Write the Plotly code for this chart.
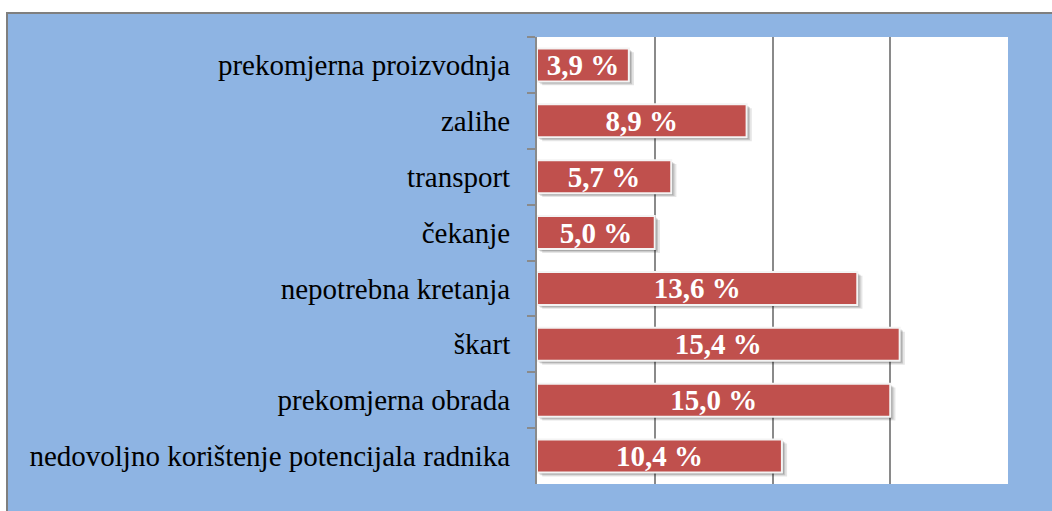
import plotly.graph_objects as go

# Categories (top to bottom) and their shares in percent
categories = [
    "prekomjerna proizvodnja",
    "zalihe",
    "transport",
    "čekanje",
    "nepotrebna kretanja",
    "škart",
    "prekomjerna obrada",
    "nedovoljno korištenje potencijala radnika",
]
values = [3.9, 8.9, 5.7, 5.0, 13.6, 15.4, 15.0, 10.4]
labels = ["3,9 %", "8,9 %", "5,7 %", "5,0 %", "13,6 %", "15,4 %", "15,0 %", "10,4 %"]

W, H = 1052, 511
ML, MR, MT, MB = 537, 44, 37, 27
PW, PH = W - ML - MR, H - MT - MB

BLUE = "#8EB4E3"
RED = "#C0504D"
GRID = "#8A8A8A"
SERIF = "Liberation Serif"
BAR_W = 0.59

fig = go.Figure()

# soft drop shadow under each bar
for dx, dy, op in [(0.22, 0.07, 0.10), (0.14, 0.05, 0.14), (0.08, 0.03, 0.18)]:
    fig.add_trace(go.Bar(
        y=categories, x=values, base=dx, orientation="h",
        width=BAR_W, offset=-BAR_W / 2 + dy,
        marker=dict(color=f"rgba(0,0,0,{op})", line=dict(width=0)),
        hoverinfo="skip", showlegend=False,
    ))

# bars with white outline and value labels
fig.add_trace(go.Bar(
    y=categories, x=values, orientation="h", width=BAR_W,
    marker=dict(color=RED, line=dict(color="#F4F4F4", width=2)),
    text=labels, textposition="inside", insidetextanchor="middle",
    textangle=0, constraintext="none",
    textfont=dict(family=SERIF, size=29, color="white", weight="bold"),
    showlegend=False,
))

fig.update_layout(
    width=W, height=H,
    margin=dict(l=ML, r=MR, t=MT, b=MB),
    paper_bgcolor="white",
    plot_bgcolor="white",
    barmode="overlay",
    xaxis=dict(
        range=[0, 20], dtick=5, showticklabels=False,
        showgrid=True, gridcolor=GRID, gridwidth=2,
        zeroline=False, showline=False, ticks="",
    ),
    yaxis=dict(
        autorange="reversed", type="category",
        showline=True, linecolor=GRID, linewidth=2,
        ticks="outside", tickson="boundaries", ticklen=8,
        tickcolor=GRID, tickwidth=2,
        showgrid=False,
        tickfont=dict(family=SERIF, size=29, color="black"),
        ticklabelstandoff=19,
    ),
    shapes=[
        # blue chart area with gray frame
        dict(type="rect", xref="paper", yref="paper", layer="below",
             x0=(7 - ML) / PW, x1=(W + 5 - ML) / PW,
             y0=-(H + 5 - MT - PH) / PH, y1=(H - 13 - MB) / PH,
             fillcolor=BLUE, line=dict(color="#7F7F7F", width=2)),
        # white plot area
        dict(type="rect", xref="paper", yref="paper", layer="below",
             x0=0, x1=1, y0=0, y1=1,
             fillcolor="white", line=dict(width=0)),
    ],
)

fig.write_html("out.html")
